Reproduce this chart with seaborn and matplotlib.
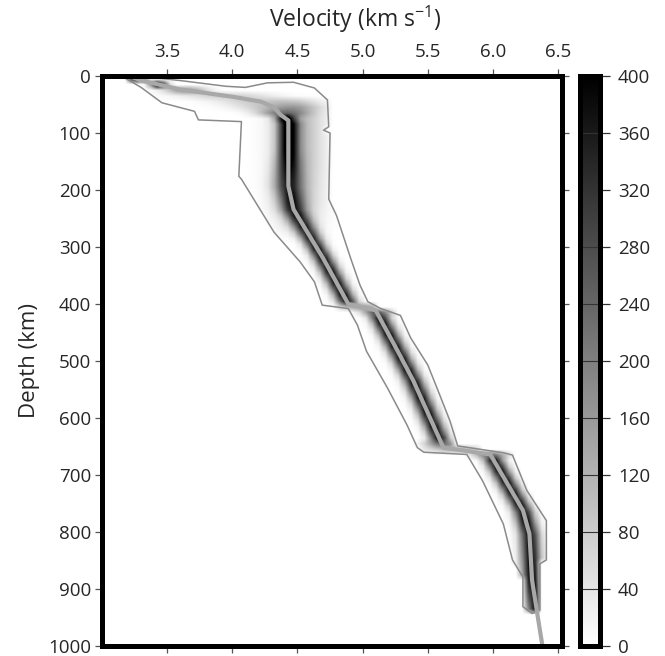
import numpy as np
import matplotlib
matplotlib.use("Agg")
import matplotlib.pyplot as plt
from matplotlib.path import Path
import seaborn as sns

# mean velocity profile (gray line), depth in km, velocity in km/s
mean_depth = [0, 8, 24, 36, 45, 55, 68, 78, 193, 234, 321, 400, 411, 483, 535, 652, 664, 762, 803, 884, 943, 1000]
mean_vel = [3.21, 3.30, 3.61, 3.99, 4.22, 4.32, 4.37, 4.43, 4.43, 4.47, 4.70, 4.89, 5.10, 5.27, 5.39, 5.62, 5.98, 6.23, 6.28, 6.30, 6.34, 6.38]

# envelope of the sampled models (thin gray contour)
left_depth = [0, 20, 47, 62, 77, 80, 176, 181, 274, 326, 361, 402, 408, 437, 483, 547, 612, 652, 660, 664, 710, 786, 849, 879, 931, 943]
left_vel = [3.15, 3.30, 3.46, 3.71, 3.74, 4.07, 4.05, 4.07, 4.32, 4.52, 4.63, 4.69, 4.89, 4.96, 5.03, 5.19, 5.34, 5.42, 5.47, 5.80, 5.92, 6.08, 6.15, 6.23, 6.23, 6.30]
right_depth = [0, 8, 18, 20, 12, 11, 21, 42, 89, 95, 100, 216, 245, 321, 367, 396, 408, 420, 460, 507, 547, 605, 649, 661, 665, 727, 780, 849, 856, 937, 943]
right_vel = [3.28, 3.60, 3.95, 4.10, 4.27, 4.47, 4.63, 4.73, 4.74, 4.70, 4.75, 4.74, 4.80, 4.91, 4.98, 5.04, 5.14, 5.29, 5.37, 5.50, 5.57, 5.67, 5.73, 6.08, 6.15, 6.26, 6.41, 6.41, 6.36, 6.36, 6.30]

# spread of the models about the mean (km/s)
spread_depth = [0, 20, 35, 55, 75, 130, 190, 250, 300, 395, 405, 420, 640, 655, 670, 685, 1000]
spread = [0.05, 0.04, 0.25, 0.20, 0.05, 0.05, 0.07, 0.06, 0.05, 0.05, 0.12, 0.05, 0.05, 0.15, 0.05, 0.05, 0.05]

# second, broad family of models in the upper mantle
broad_depth = [0, 35, 60, 150, 230, 290, 1000]
broad_counts = [0, 0, 120, 120, 90, 0, 0]
broad_vel = 4.50
broad_sig = 0.13

n_models = 1000
vel_bin = 0.05
depth_bin = 10

vel_ticks = [3.5, 4.0, 4.5, 5.0, 5.5, 6.0, 6.5]
depth_ticks = [0, 100, 200, 300, 400, 500, 600, 700, 800, 900, 1000]
cbar_ticks = [0, 40, 80, 120, 160, 200, 240, 280, 320, 360, 400]

# histogram of models in velocity/depth cells
vel_edges = np.arange(3.0, 6.55 + 1e-9, vel_bin)
vel_c = (vel_edges[:-1] + vel_edges[1:]) / 2
dep_edges = np.arange(0, 1000 + 1e-9, depth_bin)
dep_c = (dep_edges[:-1] + dep_edges[1:]) / 2

mu = np.interp(dep_c, mean_depth, mean_vel)[:, None]
sig = np.interp(dep_c, spread_depth, spread)[:, None]
counts = n_models * vel_bin * np.exp(-0.5 * ((vel_c[None, :] - mu) / sig) ** 2) / (np.sqrt(2 * np.pi) * sig)
amp = np.interp(dep_c, broad_depth, broad_counts)[:, None]
counts = counts + amp * np.exp(-0.5 * ((vel_c[None, :] - broad_vel) / broad_sig) ** 2)

env_v = left_vel + right_vel[::-1]
env_d = left_depth + right_depth[::-1]
env = Path(np.column_stack([env_v, env_d]))
V, D = np.meshgrid(vel_c, dep_c)
inside = env.contains_points(np.column_stack([V.ravel(), D.ravel()])).reshape(V.shape)
counts = np.where(inside, counts, 0)

sns.set_theme(style="white")
plt.rcParams['font.family'] = ['Open Sans', 'DejaVu Sans']
plt.rcParams['mathtext.default'] = 'regular'

fig = plt.figure(figsize=(6.65, 6.56), dpi=100)
ax = fig.add_axes([102 / 665, 1 - 646 / 656, 460 / 665, 570 / 656])
cax = fig.add_axes([580 / 665, 1 - 646 / 656, 20 / 665, 570 / 656])

im = ax.imshow(counts, extent=(3.0, 6.55, 1000, 0), cmap='gray_r', vmin=0, vmax=400,
               aspect='auto', interpolation='bilinear')

ax.plot(env_v, env_d, color='#8a8a8a', lw=1.1)
sns.lineplot(x=mean_vel, y=mean_depth, sort=False, estimator=None, color='#a8a8a8', lw=3, ax=ax)

ax.set_xlim(3.0, 6.53)
ax.set_ylim(1000, 0)
ax.set_xticks(vel_ticks)
ax.set_xticklabels([f"{t:.1f}" for t in vel_ticks])
ax.set_yticks(depth_ticks)
ax.tick_params(top=True, bottom=True, left=True, right=True, labeltop=True, labelbottom=False,
               labelleft=True, labelright=False, direction='out', length=5, width=0.9,
               color='#555555', labelsize=13.5, pad=3)
ax.tick_params(axis='x', pad=6)
ax.set_ylabel("Depth (km)", fontsize=16, labelpad=6)
fig.text(355 / 665, 1 - 19 / 656, r"Velocity (km s$^{-1}$)", fontsize=16.5,
         ha='center', va='center')
for s in ax.spines.values():
    s.set_visible(True)
    s.set_color('black')
    s.set_linewidth(3.6)

cbar = fig.colorbar(im, cax=cax, ticks=cbar_ticks)
cbar.outline.set_linewidth(3.6)
cbar.outline.set_edgecolor('black')
for t in cbar_ticks[1:-1]:
    cax.axhline(t, color='#333333', lw=0.8)
cax.tick_params(right=True, direction='out', length=7, width=0.9, color='#333333', labelsize=13.5, pad=6)

fig.savefig("out.png", dpi=100)
